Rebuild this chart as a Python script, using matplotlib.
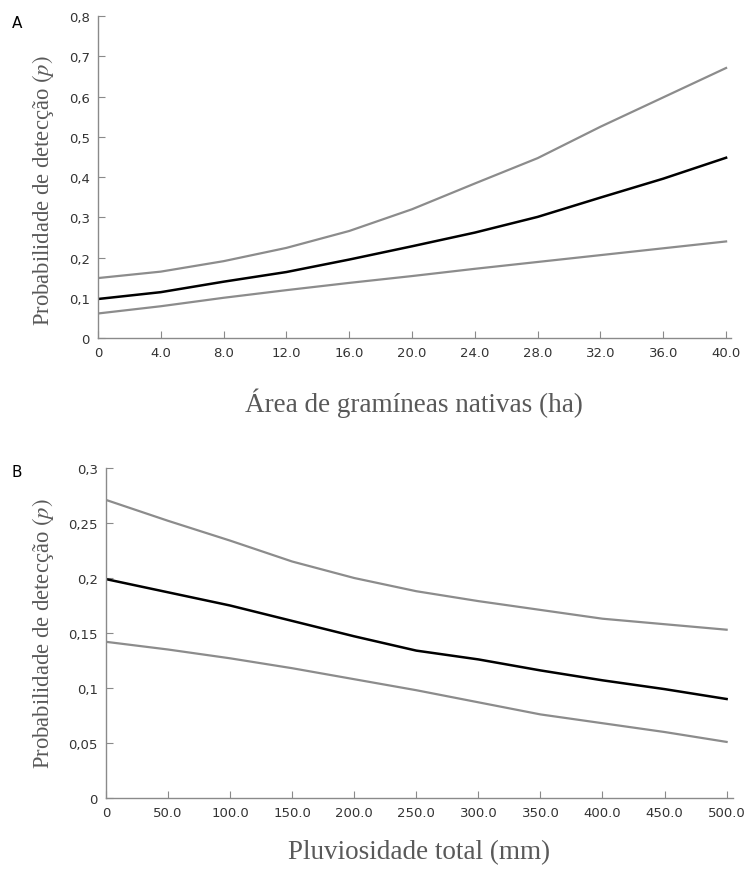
import matplotlib
matplotlib.use("Agg")
import matplotlib.pyplot as plt
import numpy as np

plt.rcParams['mathtext.fontset'] = 'stix'

# painel A: area de gramineas nativas (ha)
area = [0, 4, 8, 12, 16, 20, 24, 28, 32, 36, 40]
area_sup = [0.149, 0.165, 0.191, 0.224, 0.266, 0.320, 0.384, 0.447, 0.525, 0.598, 0.671]
area_med = [0.097, 0.114, 0.140, 0.164, 0.195, 0.228, 0.262, 0.301, 0.349, 0.396, 0.448]
area_inf = [0.061, 0.079, 0.100, 0.119, 0.137, 0.154, 0.172, 0.189, 0.206, 0.223, 0.240]
area_ticks = ["0", "4.0", "8.0", "12.0", "16.0", "20.0", "24.0", "28.0", "32.0", "36.0", "40.0"]

# painel B: pluviosidade total (mm)
chuva = [0, 50, 100, 150, 200, 250, 300, 350, 400, 450, 500]
chuva_sup = [0.271, 0.252, 0.234, 0.215, 0.200, 0.188, 0.179, 0.171, 0.163, 0.158, 0.153]
chuva_med = [0.199, 0.187, 0.175, 0.161, 0.147, 0.134, 0.126, 0.116, 0.107, 0.099, 0.090]
chuva_inf = [0.142, 0.135, 0.127, 0.118, 0.108, 0.098, 0.087, 0.076, 0.068, 0.060, 0.051]
chuva_ticks = ["0", "50.0", "100.0", "150.0", "200.0", "250.0", "300.0", "350.0", "400.0", "450.0", "500.0"]

cinza = '#8c8c8c'
eixo = '#8a8a8a'
texto_eixo = '#595959'

fig = plt.figure(figsize=(7.48, 8.7), dpi=100)
axA = fig.add_axes([0.131, 0.6103, 0.846, 0.3701])
axB = fig.add_axes([0.1417, 0.0816, 0.838, 0.3793])


def estilo(ax, x, ticks, xlim, ylim, yticks, ylabels, xlabel, pad_x, lab_xy):
    for s in ['top', 'right']:
        ax.spines[s].set_visible(False)
    for s in ['left', 'bottom']:
        ax.spines[s].set_color(eixo)
        ax.spines[s].set_linewidth(1.0)
    ax.set_xlim(*xlim)
    ax.set_ylim(*ylim)
    ax.set_xticks(x)
    ax.set_xticklabels(ticks)
    ax.set_yticks(yticks)
    ax.set_yticklabels(ylabels)
    ax.tick_params(direction='in', length=5, color=eixo, labelsize=9.5,
                   labelcolor='#333333', pad=6)
    ax.set_xlabel(xlabel, family='Liberation Serif', fontsize=19.5,
                  color=texto_eixo, labelpad=pad_x)
    ax.set_ylabel(r'Probabilidade de detecção $(p)$', family='Liberation Serif',
                  fontsize=16.3, color=texto_eixo)
    ax.yaxis.set_label_coords(*lab_xy)


axA.plot(area, area_sup, color=cinza, lw=1.6)
axA.plot(area, area_inf, color=cinza, lw=1.6)
axA.plot(area, area_med, color='black', lw=1.8)
ya = [0, 0.1, 0.2, 0.3, 0.4, 0.5, 0.6, 0.7, 0.8]
estilo(axA, area, area_ticks, (0, 40.3), (0, 0.8), ya,
       ["0", "0,1", "0,2", "0,3", "0,4", "0,5", "0,6", "0,7", "0,8"],
       "Área de gramíneas nativas (ha)", 20, (-0.066, 0.46))

axB.plot(chuva, chuva_sup, color=cinza, lw=1.6)
axB.plot(chuva, chuva_inf, color=cinza, lw=1.6)
axB.plot(chuva, chuva_med, color='black', lw=1.8)
yb = [0, 0.05, 0.1, 0.15, 0.2, 0.25, 0.3]
estilo(axB, chuva, chuva_ticks, (0, 505), (0, 0.3), yb,
       ["0", "0,05", "0,1", "0,15", "0,2", "0,25", "0,3"],
       "Pluviosidade total (mm)", 14, (-0.079, 0.5))

fig.text(0.016, 0.982, "A", fontsize=11, va='top')
fig.text(0.016, 0.465, "B", fontsize=11, va='top')

fig.savefig("out.png", dpi=100)
